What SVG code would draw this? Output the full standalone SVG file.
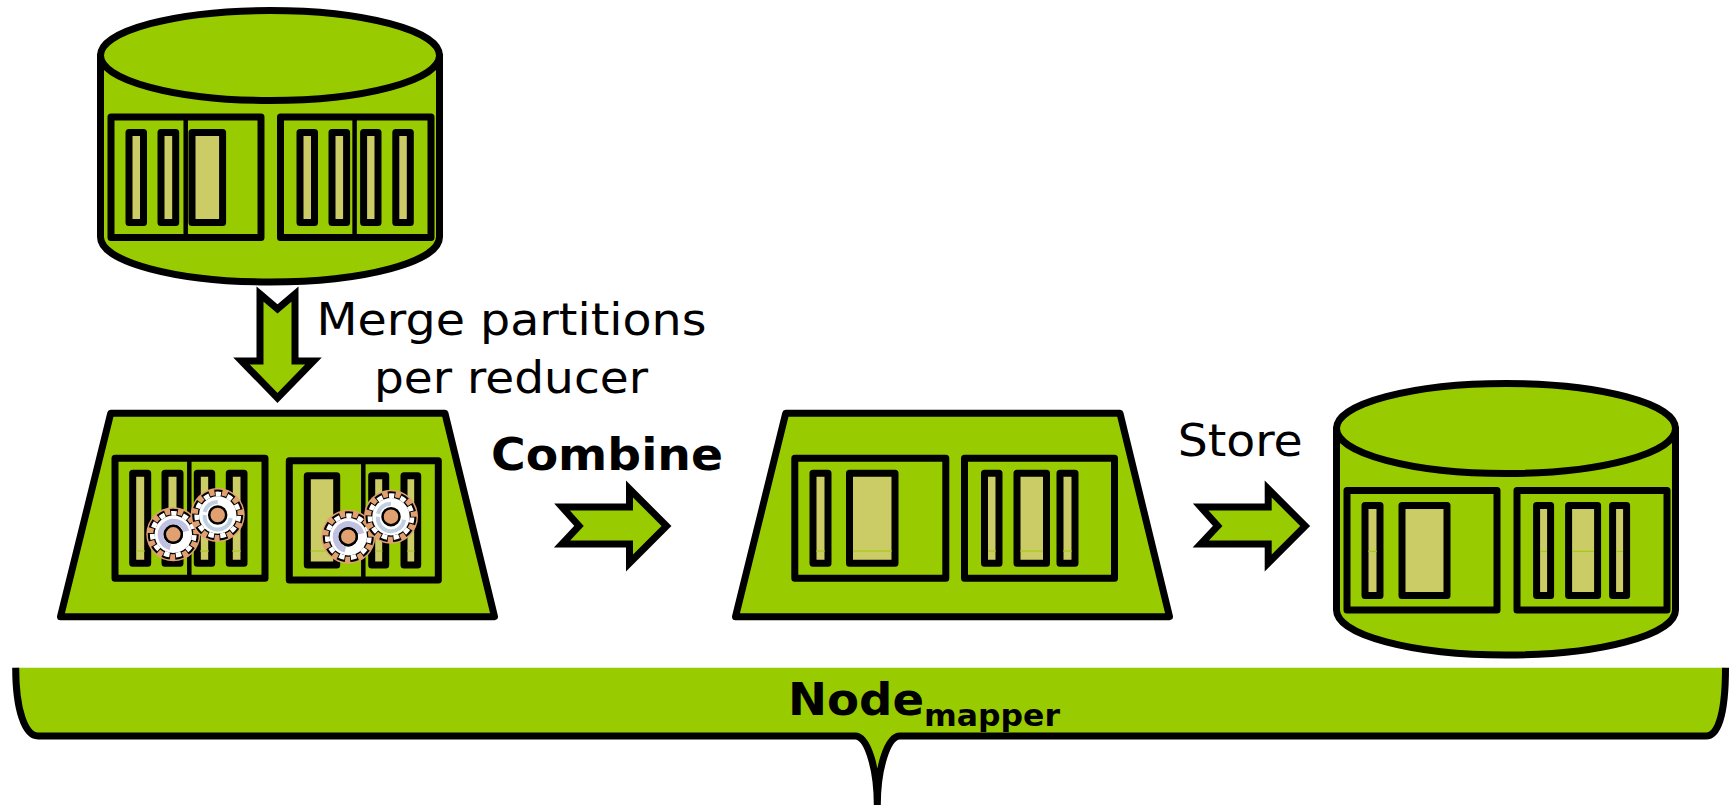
<svg xmlns="http://www.w3.org/2000/svg" width="1729" height="805" viewBox="0 0 1729 805">
<style>
.g{fill:#99cc00;stroke:#000;stroke-width:7;stroke-linejoin:round}
.box{fill:none;stroke:#000;stroke-width:7;stroke-linejoin:round}
.bar{fill:#cccc66;stroke:#000;stroke-width:7;stroke-linejoin:round}
.div{stroke:#000;stroke-width:4.5}
.thin{stroke:#99cc00;stroke-width:1}
.arrow{fill:#99cc00;stroke:#000;stroke-width:7;stroke-linejoin:miter;stroke-miterlimit:8}
text{font-family:"DejaVu Sans","Liberation Sans",sans-serif;font-size:44px;fill:#000}
.b{font-weight:700}
</style>
<defs>
<g id="disc-shape">
<path class="g" d="M100.5,55.5V237A169.5,45 0 0 0 439.5,237V55.5Z"/>
<ellipse class="g" cx="270" cy="55.5" rx="169.5" ry="45"/>
</g>
<g id="gear">
<circle r="27" fill="#e0a070"/>
<circle r="20" fill="#000"/>
<circle r="22" fill="none" stroke="#000" stroke-width="7" pathLength="110" stroke-dasharray="6 4"/>
<circle r="18.7" fill="#fff"/>
<circle r="21" fill="none" stroke="#fff" stroke-width="4.8" pathLength="110" stroke-dasharray="4.6 5.4" stroke-dashoffset="-0.7"/>
<circle r="8.5" fill="#e0a070" stroke="#000" stroke-width="2.5"/>
</g>
</defs>

<g id="disc-source">
<use href="#disc-shape"/>
<rect class="box" x="111" y="117" width="150" height="120.5"/>
<line class="div" x1="185.7" y1="117" x2="185.7" y2="237"/>
<rect class="box" x="280.5" y="117" width="150.5" height="120.5"/>
<line class="div" x1="354.6" y1="117" x2="354.6" y2="237"/>
<rect class="bar" x="129" y="132.6" width="14.5" height="89.8"/>
<rect class="bar" x="161" y="132.6" width="14.7" height="89.8"/>
<rect class="bar" x="192" y="132.6" width="30.6" height="89.8"/>
<rect class="bar" x="300" y="132.6" width="14.5" height="89.8"/>
<rect class="bar" x="332" y="132.6" width="14.6" height="89.8"/>
<rect class="bar" x="363.6" y="132.6" width="14.4" height="89.8"/>
<rect class="bar" x="395.8" y="132.6" width="14.5" height="89.8"/>
</g>

<g id="combiner-input">
<path class="g" d="M110.7,413.3H445L494.5,616.7H60.5Z"/>
<rect class="box" x="115" y="458.3" width="150" height="120"/>
<line class="div" x1="189.3" y1="458.3" x2="189.3" y2="578.3"/>
<rect class="box" x="289.3" y="460.7" width="149" height="119.3"/>
<line class="div" x1="363.3" y1="460.7" x2="363.3" y2="580"/>
<rect class="bar" x="132.7" y="473.3" width="15" height="90"/>
<rect class="bar" x="165" y="473.3" width="15" height="90"/>
<rect class="bar" x="197.3" y="473.3" width="14.4" height="90"/>
<rect class="bar" x="229.3" y="473.3" width="14.7" height="90"/>
<rect class="bar" x="307.3" y="475.7" width="29.4" height="89.3"/>
<rect class="bar" x="371.7" y="475.7" width="14" height="89.3"/>
<rect class="bar" x="404" y="475.7" width="13.7" height="89.3"/>
<path class="thin" d="M136,551h9M200,551h9M232,551h9M310.5,551h23M375,551h7.5M407,551h7.5"/>
<g transform="translate(173.3 534.3)"><use href="#gear"/><path d="M-3,13A13,13 0 1 1 13,-3" fill="none" stroke="#c0c0e0" stroke-width="6"/><circle r="8.5" fill="#e0a070" stroke="#000" stroke-width="2.5"/></g>
<g transform="translate(217.7 515)"><use href="#gear"/><path d="M-13,0A13,13 0 0 0 13,3" fill="none" stroke="#c0d0e0" stroke-width="4"/><path d="M-13,-3A13,13 0 0 1 0,-13" fill="none" stroke="#c0d0e0" stroke-width="4"/></g>
<g transform="translate(348.3 536.7)"><use href="#gear"/><path d="M-3,13A13,13 0 1 1 13,-3" fill="none" stroke="#c0c0e0" stroke-width="6"/><circle r="8.5" fill="#e0a070" stroke="#000" stroke-width="2.5"/></g>
<g transform="translate(391 516.7)"><use href="#gear"/><path d="M-13,0A13,13 0 0 0 13,3" fill="none" stroke="#c0d0e0" stroke-width="4"/><path d="M-13,-3A13,13 0 0 1 0,-13" fill="none" stroke="#c0d0e0" stroke-width="4"/></g>
</g>

<g id="combiner-output">
<path class="g" d="M785.7,413.3H1120L1169.5,616.7H735.5Z"/>
<rect class="box" x="794.8" y="458.3" width="151" height="120"/>
<rect class="box" x="964.5" y="458.3" width="150" height="120"/>
<rect class="bar" x="813" y="473.3" width="15" height="90"/>
<rect class="bar" x="849.5" y="473.3" width="45.5" height="90"/>
<rect class="bar" x="984.5" y="473.3" width="14.5" height="90"/>
<rect class="bar" x="1017" y="473.3" width="29.5" height="90"/>
<rect class="bar" x="1060" y="473.3" width="15" height="90"/>
<path class="thin" d="M816,551h9M853,551h39M988,551h8M1020,551h23M1063,551h9"/>
</g>

<g id="disc-store">
<use href="#disc-shape" transform="translate(1236 373)"/>
<rect class="box" x="1347" y="490.6" width="150" height="119.4"/>
<rect class="box" x="1517" y="490.6" width="150" height="119.4"/>
<rect class="bar" x="1365" y="505.6" width="15" height="90"/>
<rect class="bar" x="1402" y="505.6" width="45" height="90"/>
<rect class="bar" x="1536.6" y="505.6" width="14" height="90"/>
<rect class="bar" x="1568.6" y="505.6" width="29" height="90"/>
<rect class="bar" x="1612.6" y="505.6" width="14" height="90"/>
<path class="thin" d="M1368,551.3h9M1540,551.3h7M1572,551.3h22M1616,551.3h7"/>
</g>

<g id="connectors">
<polygon class="arrow" points="260,294 277.5,309 295,294 295,361 313.5,361 277.5,398 241.5,361 260,361"/>
<polygon class="arrow" points="562,507 629.5,507 629.5,489 666.5,526 629.5,563 629.5,544 562,544 579,526"/>
<polygon class="arrow" points="562,507 629.5,507 629.5,489 666.5,526 629.5,563 629.5,544 562,544 579,526" transform="translate(638.7 0)"/>
</g>

<g id="node-mapper">
<path d="M15.7,667.7C15.7,710 25,736 38,736H855C868,736 877.3,770 877.3,805C877.3,770 887,736 900,736H1706C1719,736 1725.5,710 1725.5,667.7" fill="#99cc00" stroke="#000" stroke-width="7"/>
<text class="b" x="788" y="715" textLength="136" lengthAdjust="spacingAndGlyphs">Node</text>
<text class="b" x="924" y="726" style="font-size:30px" textLength="136" lengthAdjust="spacingAndGlyphs">mapper</text>
</g>

<g id="labels">
<text x="316.5" y="335" textLength="390" lengthAdjust="spacingAndGlyphs">Merge partitions</text>
<text x="374" y="392.5" textLength="274" lengthAdjust="spacingAndGlyphs">per reducer</text>
<text class="b" x="491" y="470" textLength="232" lengthAdjust="spacingAndGlyphs">Combine</text>
<text x="1177.7" y="456" textLength="125" lengthAdjust="spacingAndGlyphs">Store</text>
</g>
</svg>
